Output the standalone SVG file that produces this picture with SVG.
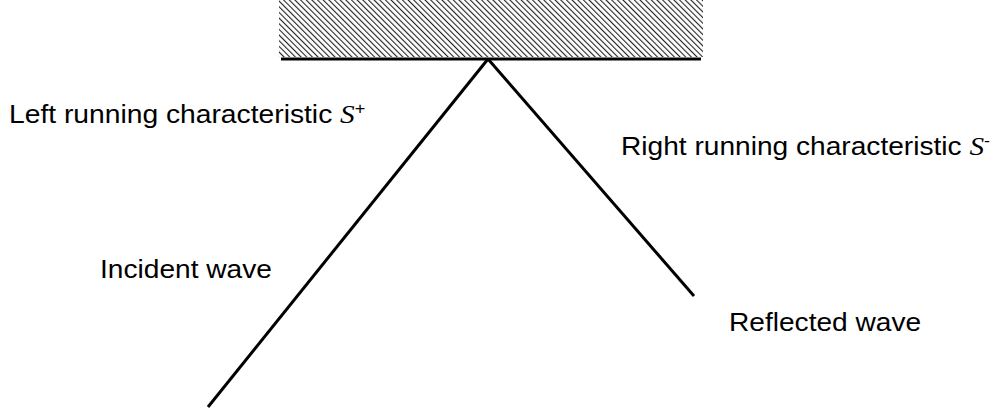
<svg xmlns="http://www.w3.org/2000/svg" width="997" height="413" viewBox="0 0 997 413">
<style>
.t{font-family:"Liberation Sans",Arial,sans-serif;font-size:25px;fill:#000}
.s{font-family:"Liberation Serif","Times New Roman",serif;font-style:italic}
.l{stroke:#000;stroke-width:3;fill:none}
</style>
<defs>
<pattern id="hatch" patternUnits="userSpaceOnUse" width="4" height="4" patternTransform="rotate(-45)">
<rect width="4" height="4" fill="#fff"/>
<line x1="0" y1="0" x2="0" y2="4" stroke="#222" stroke-width="2.2"/>
</pattern>
</defs>
<g id="wall">
<rect x="279" y="0" width="424" height="57" fill="url(#hatch)"/>
<line class="l" x1="281" y1="59" x2="701" y2="59"/>
</g>
<g id="connectors">
<line class="l" x1="488" y1="59" x2="208" y2="407"/>
<line class="l" x1="488" y1="59" x2="694" y2="296"/>
</g>
<g id="labels">
<text class="t" transform="translate(9,123) scale(1.13,1)">Left running characteristic <tspan class="s" font-size="26">S</tspan><tspan font-size="16" dy="-9">+</tspan></text>
<text class="t" transform="translate(621,155) scale(1.125,1)">Right running characteristic <tspan class="s" font-size="26">S</tspan><tspan font-size="16" dy="-9">-</tspan></text>
<text class="t" transform="translate(100,278) scale(1.125,1)">Incident wave</text>
<text class="t" transform="translate(729,331) scale(1.125,1)">Reflected wave</text>
</g>
</svg>
